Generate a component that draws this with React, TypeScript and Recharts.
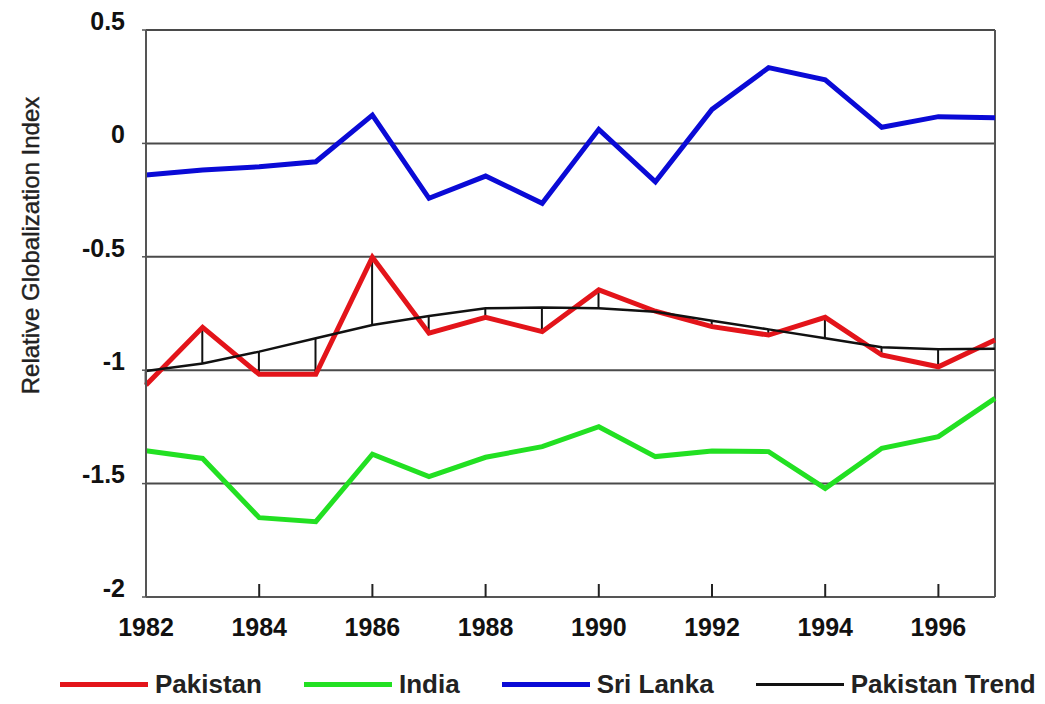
import React from "react";
import {
  ComposedChart,
  Line,
  Bar,
  XAxis,
  YAxis,
  CartesianGrid,
  Legend,
  ReferenceLine,
} from "recharts";

const years = [1982, 1983, 1984, 1985, 1986, 1987, 1988, 1989, 1990, 1991, 1992, 1993, 1994, 1995, 1996, 1997];
const pakistan = [-1.065, -0.811, -1.018, -1.018, -0.502, -0.837, -0.767, -0.83, -0.646, -0.74, -0.808, -0.845, -0.767, -0.933, -0.985, -0.867];
const pakistanTrend = [-1.004, -0.97, -0.918, -0.859, -0.801, -0.761, -0.727, -0.723, -0.727, -0.742, -0.782, -0.82, -0.859, -0.899, -0.908, -0.905];
const india = [-1.355, -1.389, -1.65, -1.668, -1.37, -1.469, -1.384, -1.337, -1.249, -1.381, -1.356, -1.359, -1.521, -1.344, -1.293, -1.124];
const sriLanka = [-0.139, -0.117, -0.103, -0.081, 0.125, -0.242, -0.144, -0.264, 0.062, -0.169, 0.15, 0.334, 0.28, 0.071, 0.118, 0.113];

const xTicks = [1982, 1984, 1986, 1988, 1990, 1992, 1994, 1996];
const yTicks = [-2, -1.5, -1, -0.5, 0, 0.5];
const legendOrder = ["Pakistan", "India", "Sri Lanka", "Pakistan Trend"];

// residual sticks between the actual value and the trend
const data = years.map((year, i) => ({
  year,
  pakistan: pakistan[i],
  india: india[i],
  sriLanka: sriLanka[i],
  trend: pakistanTrend[i],
  resid: [Math.min(pakistan[i], pakistanTrend[i]), Math.max(pakistan[i], pakistanTrend[i])],
}));

const FONT = '"Liberation Sans", Arial, sans-serif';

const XTick = (props: any) => {
  const { x, y, payload } = props;
  return (
    <text x={x} y={y} dy="0.71em" textAnchor="middle" fontFamily={FONT} fontWeight="bold" fontSize={25} fill="#111">
      {payload.value}
    </text>
  );
};

const YTick = (props: any) => {
  const { x, y, payload } = props;
  return (
    <text x={x} y={y - 9} dy="0.355em" textAnchor="end" fontFamily={FONT} fontWeight="bold" fontSize={25} fill="#111">
      {payload.value}
    </text>
  );
};

const YLabel = (props: any) => {
  const { viewBox } = props;
  const cx = 22;
  const cy = viewBox.y + viewBox.height / 2 - 68;
  return (
    <text
      x={cx}
      y={cy}
      transform={`rotate(-90, ${cx}, ${cy})`}
      textAnchor="middle"
      dominantBaseline="central"
      fontFamily={FONT}
      fontSize={24}
      fill="#222"
      stroke="#222"
      strokeWidth={0.4}
    >
      Relative Globalization Index
    </text>
  );
};

const LegendContent = (props: any) => {
  const items = (props.payload || [])
    .filter((p: any) => p.type !== "none")
    .sort((a: any, b: any) => legendOrder.indexOf(a.value) - legendOrder.indexOf(b.value));
  return (
    <div style={{ display: "flex", alignItems: "center", paddingLeft: 52, height: 40, whiteSpace: "nowrap" }}>
      {items.map((p: any) => (
        <div key={p.value} style={{ display: "flex", alignItems: "center", marginRight: 42, flexShrink: 0 }}>
          <div
            style={{
              width: 88,
              height: p.value === "Pakistan Trend" ? 3 : 5,
              background: p.color,
              marginRight: 7,
            }}
          />
          <span style={{ fontFamily: FONT, fontWeight: "bold", fontSize: 26, color: "#222" }}>{p.value}</span>
        </div>
      ))}
    </div>
  );
};

export default function App() {
  return (
    <div style={{ width: 1037, height: 696 }}>
      <ComposedChart width={1037} height={696} data={data} margin={{ top: 22, right: 50, left: 0, bottom: 0 }}>
        <CartesianGrid horizontal vertical={false} stroke="#4a4a4a" strokeWidth={2} />
        <XAxis
          dataKey="year"
          type="number"
          domain={[1982, 1997]}
          ticks={xTicks}
          interval={0}
          height={67}
          axisLine={{ stroke: "#555", strokeWidth: 2 }}
          tickLine={{ stroke: "#222", strokeWidth: 2 }}
          tickSize={-13}
          tickMargin={34}
          tick={<XTick />}
        />
        <YAxis
          type="number"
          domain={[-2, 0.5]}
          ticks={yTicks}
          interval={0}
          width={138}
          axisLine={{ stroke: "#555", strokeWidth: 2 }}
          tickLine={{ stroke: "#555", strokeWidth: 1.5 }}
          tickSize={4}
          tickMargin={17}
          tick={<YTick />}
          label={<YLabel />}
        />
        <ReferenceLine x={1997} stroke="#555" strokeWidth={2} />
        <Bar dataKey="resid" barSize={2} fill="#111" legendType="none" isAnimationActive={false} />
        <Line
          type="linear"
          dataKey="sriLanka"
          name="Sri Lanka"
          stroke="#0a0ad6"
          strokeWidth={5}
          dot={false}
          isAnimationActive={false}
        />
        <Line
          type="linear"
          dataKey="india"
          name="India"
          stroke="#22e022"
          strokeWidth={5}
          dot={false}
          isAnimationActive={false}
        />
        <Line
          type="linear"
          dataKey="pakistan"
          name="Pakistan"
          stroke="#e3141a"
          strokeWidth={5}
          dot={false}
          isAnimationActive={false}
        />
        <Line
          type="linear"
          dataKey="trend"
          name="Pakistan Trend"
          stroke="#111"
          strokeWidth={2.5}
          dot={false}
          isAnimationActive={false}
        />
        <Legend
          verticalAlign="bottom"
          height={40}
          wrapperStyle={{ left: 0, width: 1037 }}
          content={<LegendContent />}
        />
      </ComposedChart>
    </div>
  );
}
